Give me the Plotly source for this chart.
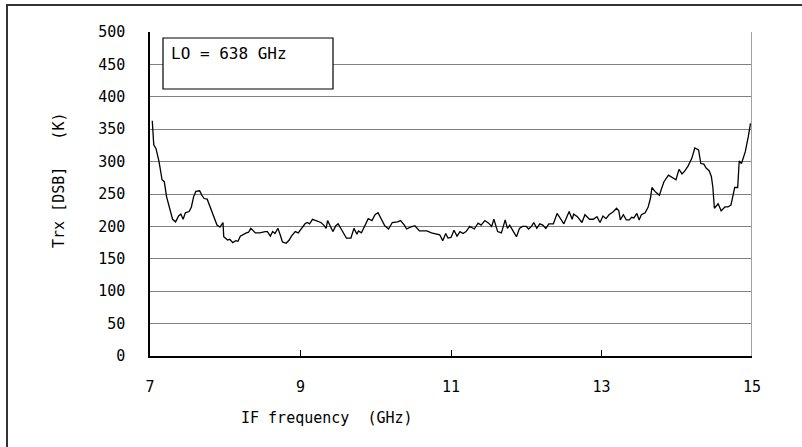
import plotly.graph_objects as go

freq = [7.03, 7.05, 7.08, 7.12, 7.16, 7.19, 7.22, 7.27, 7.30, 7.34, 7.38, 7.41, 7.44, 7.47,
        7.52, 7.55, 7.58, 7.61, 7.66, 7.69, 7.72, 7.76, 7.80, 7.83, 7.86, 7.89, 7.93, 7.97,
        7.98, 8.03, 8.06, 8.10, 8.14, 8.17, 8.20, 8.24, 8.28, 8.31, 8.34, 8.40, 8.46, 8.53,
        8.56, 8.60, 8.63, 8.66, 8.70, 8.73, 8.76, 8.81, 8.85, 8.88, 8.93, 8.97, 9.02, 9.06,
        9.09, 9.12, 9.16, 9.21, 9.27, 9.31, 9.34, 9.36, 9.40, 9.43, 9.47, 9.50, 9.55, 9.58,
        9.61, 9.67, 9.71, 9.75, 9.77, 9.81, 9.86, 9.90, 9.95, 9.99, 10.03, 10.07, 10.12,
        10.17, 10.22, 10.29, 10.33, 10.38, 10.41, 10.46, 10.52, 10.58, 10.68, 10.74, 10.81,
        10.85, 10.89, 10.93, 10.96, 11.00, 11.04, 11.08, 11.12, 11.16, 11.20, 11.25, 11.31,
        11.36, 11.40, 11.45, 11.50, 11.54, 11.57, 11.62, 11.67, 11.72, 11.75, 11.78, 11.83,
        11.87, 11.91, 11.95, 12.00, 12.03, 12.07, 12.10, 12.14, 12.18, 12.22, 12.26, 12.30,
        12.36, 12.41, 12.46, 12.50, 12.54, 12.57, 12.61, 12.63, 12.68, 12.74, 12.78, 12.84,
        12.89, 12.94, 12.98, 13.02, 13.06, 13.10, 13.16, 13.20, 13.23, 13.25, 13.29, 13.33,
        13.37, 13.40, 13.43, 13.47, 13.50, 13.53, 13.58, 13.62, 13.65, 13.67, 13.71, 13.77,
        13.80, 13.83, 13.89, 13.93, 13.99, 14.03, 14.07, 14.11, 14.15, 14.20, 14.24, 14.29,
        14.32, 14.36, 14.39, 14.43, 14.46, 14.48, 14.50, 14.55, 14.59, 14.64, 14.68, 14.72,
        14.75, 14.77, 14.81, 14.83, 14.86, 14.91, 14.95, 14.98]

trx = [363, 326, 320, 300, 272, 269, 246, 225, 211, 207, 216, 219, 211, 221,
       223, 230, 246, 254, 255, 248, 243, 242, 230, 223, 212, 202, 199, 206,
       184, 179, 180, 175, 178, 177, 185, 188, 190, 191, 197, 190, 190, 192,
       192, 185, 192, 189, 197, 187, 176, 174, 179, 185, 192, 190, 197, 204,
       206, 204, 211, 209, 206, 202, 197, 209, 200, 192, 201, 204, 194, 188,
       182, 182, 197, 188, 193, 190, 201, 212, 209, 218, 221, 212, 201,
       196, 206, 207, 209, 202, 196, 199, 201, 193, 193, 190, 188,
       187, 178, 189, 182, 183, 194, 185, 192, 189, 192, 200, 196,
       205, 202, 209, 205, 200, 211, 192, 190, 210, 197, 202, 192,
       184, 197, 200, 200, 196, 200, 206, 197, 204, 202, 197, 204,
       204, 220, 212, 204, 215, 223, 211, 219, 215, 206, 218, 211,
       211, 215, 206, 216, 212, 218, 223, 228, 224, 210, 218, 210,
       210, 214, 213, 220, 210, 218, 221, 230, 243, 260, 254, 248,
       259, 269, 279, 276, 272, 288, 281, 286, 293, 305, 321, 318,
       297, 296, 290, 286, 277, 260, 228, 235, 224, 230, 230, 233,
       248, 260, 260, 301, 297, 315, 338, 359]

x_ticks = [7, 9, 11, 13, 15]
y_ticks = [0, 50, 100, 150, 200, 250, 300, 350, 400, 450, 500]
legend_text = "LO = 638 GHz"
x_title = "IF frequency  (GHz)"
y_title = "Trx [DSB]   (K)"

FONT = "DejaVu Sans Mono"
L, R, T, B = 150, 50, 32, 91
W, H = 802, 447
pw, ph = W - L - R, H - T - B

def px(xp):
    return (xp - L) / pw

def py(yp):
    return (H - B - yp) / ph

fig = go.Figure()
fig.add_trace(go.Scatter(x=freq, y=trx, mode="lines",
                         line=dict(color="black", width=1.3), showlegend=False,
                         hoverinfo="skip"))

fig.update_layout(
    width=W, height=H,
    margin=dict(l=L, r=R, t=T, b=B),
    paper_bgcolor="white", plot_bgcolor="white",
    font=dict(family=FONT, size=14, color="black"),
    xaxis=dict(range=[7, 15], tickvals=x_ticks, ticktext=[str(v) for v in x_ticks],
               showgrid=False, zeroline=False, showline=True, linecolor="black",
               linewidth=1.5, ticks="inside", ticklen=6, tickcolor="black",
               tickfont=dict(size=15), ticklabelstandoff=16),
    yaxis=dict(range=[0, 500], tickvals=y_ticks, ticktext=[str(v) for v in y_ticks],
               showgrid=True, gridcolor="#808080", gridwidth=1.2, zeroline=False,
               showline=True, linecolor="black", linewidth=1.5, ticks="",
               tickfont=dict(size=15), ticklabelstandoff=20),
    shapes=[
        dict(type="line", xref="x", yref="paper", x0=15, x1=15, y0=0, y1=1,
             line=dict(color="#a0a0a0", width=2)),
        dict(type="rect", xref="paper", yref="paper", x0=px(163), x1=px(333),
             y0=py(89), y1=py(38), line=dict(color="black", width=1.2),
             fillcolor="white", layer="above"),
        dict(type="rect", xref="paper", yref="paper", x0=px(7), x1=px(830),
             y0=py(470), y1=py(5), line=dict(color="#333333", width=2),
             fillcolor="rgba(0,0,0,0)"),
    ],
    annotations=[
        dict(text=legend_text, xref="paper", yref="paper", x=px(169), y=py(54),
             xanchor="left", yanchor="middle", showarrow=False,
             font=dict(size=16, family=FONT)),
        dict(text=x_title, xref="paper", yref="paper", x=px(327), y=py(418),
             xanchor="center", yanchor="middle", showarrow=False,
             font=dict(size=15, family=FONT)),
        dict(text=y_title, xref="paper", yref="paper", x=px(59), y=py(181),
             xanchor="center", yanchor="middle", showarrow=False, textangle=-90,
             font=dict(size=15, family=FONT)),
    ],
)

fig.write_html("out.html", config={"displayModeBar": False},
               post_script="document.body.style.margin='0';document.body.style.overflow='hidden';")
